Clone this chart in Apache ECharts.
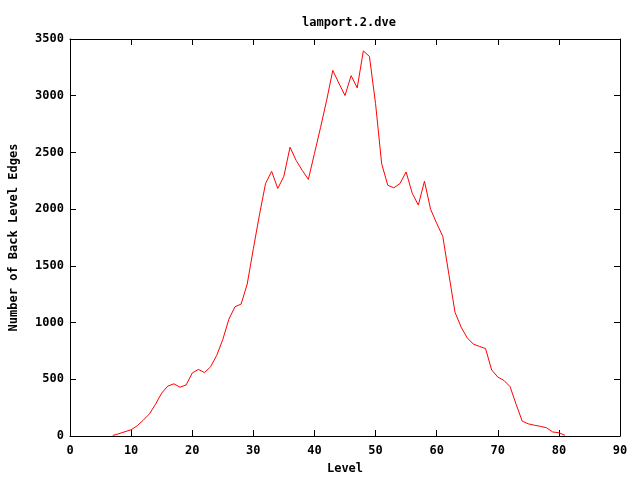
<!DOCTYPE html>
<html><head><meta charset="utf-8">
<script src="https://cdn.jsdelivr.net/npm/echarts@6/dist/echarts.min.js"></script>
<style>html,body{margin:0;padding:0;background:#fff;overflow:hidden}#c{width:640px;height:480px}</style>
</head><body><div id="c"></div>
<script>
const titleText = 'lamport.2.dve';
const xLabel = 'Level';
const yLabel = 'Number of Back Level Edges';
const levels = [7,8,9,10,11,12,13,14,15,16,17,18,19,20,21,22,23,24,25,26,27,28,29,30,31,32,33,34,35,36,37,38,39,40,41,42,43,44,45,46,47,48,49,50,51,52,53,54,55,56,57,58,59,60,61,62,63,64,65,66,67,68,69,70,71,72,73,74,75,76,77,78,79,80,81];
const edges = [5,20,38,55,90,140,195,280,378,440,460,430,450,555,587,559,610,710,850,1030,1140,1163,1340,1650,1950,2226,2333,2182,2290,2546,2430,2342,2262,2490,2720,2960,3223,3110,3002,3177,3069,3395,3346,2930,2400,2211,2188,2226,2328,2140,2036,2246,2000,1876,1760,1425,1091,960,865,810,790,771,582,520,490,436,280,131,107,95,85,72,35,29,6];

const font = {fontFamily:'DejaVu Sans Mono', fontWeight:'bold', fontSize:12, color:'#000'};
const line = {show:true, onZero:false, lineStyle:{color:'#000', width:1}};
const tick = {show:true, inside:true, length:6, lineStyle:{color:'#000'}};
const plain = v => String(v);
const chart = echarts.init(document.getElementById('c'), null, {renderer:'canvas'});
chart.setOption({
  animation:false,
  backgroundColor:'#fff',
  title:{text:titleText, left:297, top:12, textStyle:Object.assign({}, font)},
  grid:{left:69, right:20, top:39, bottom:40, containLabel:false},
  xAxis:[
    {type:'value', min:0, max:90, interval:10, position:'bottom',
     name:xLabel, nameLocation:'middle', nameGap:27, nameTextStyle:Object.assign({}, font),
     axisLine:line, axisTick:tick, splitLine:{show:false},
     axisLabel:Object.assign({margin:9, formatter:plain}, font)},
    {type:'value', min:0, max:90, interval:10, position:'top',
     axisLine:line, axisTick:tick, splitLine:{show:false}, axisLabel:{show:false}}
  ],
  yAxis:[
    {type:'value', min:0, max:3500, interval:500, position:'left',
     name:yLabel, nameLocation:'middle', nameGap:50, nameRotate:90, nameTextStyle:Object.assign({}, font),
     axisLine:line, axisTick:tick, splitLine:{show:false},
     axisLabel:Object.assign({margin:6, formatter:plain}, font)},
    {type:'value', min:0, max:3500, interval:500, position:'right',
     axisLine:line, axisTick:tick, splitLine:{show:false}, axisLabel:{show:false}}
  ],
  series:[{type:'line', xAxisIndex:0, yAxisIndex:0, data:levels.map((l,i)=>[l, edges[i]]), showSymbol:false, symbol:'none',
    lineStyle:{color:'#ff0000', width:1}, itemStyle:{color:'#ff0000'}}]
});
</script></body></html>
